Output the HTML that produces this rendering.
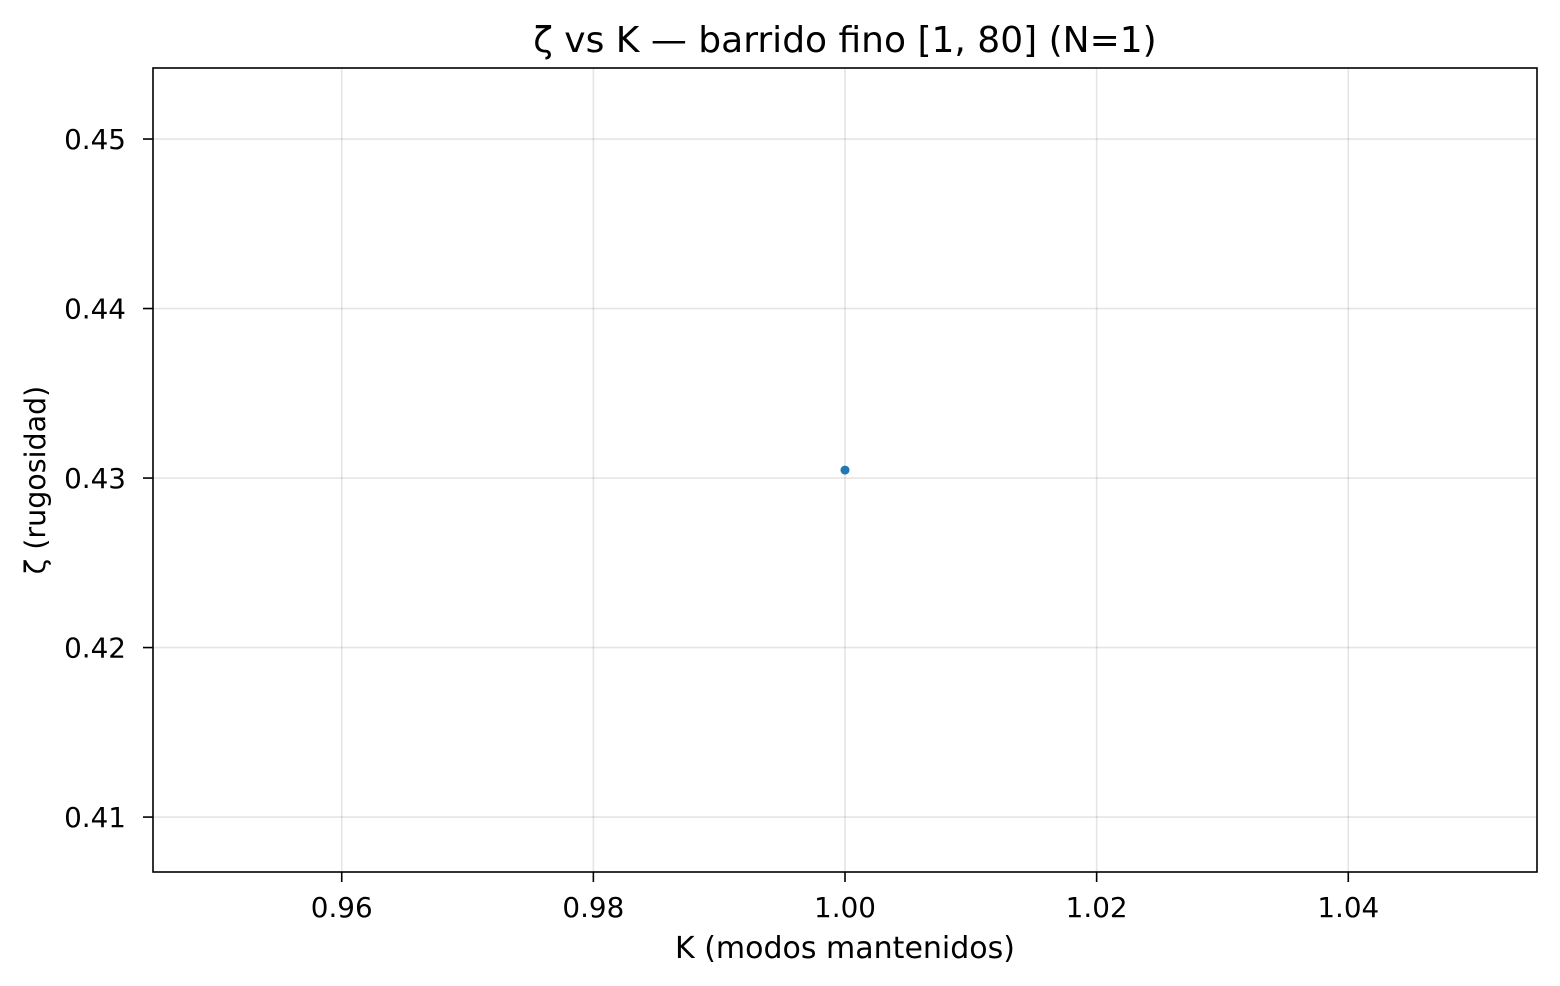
<!DOCTYPE html>
<html><head><meta charset="utf-8"><style>
html,body{margin:0;padding:0;background:#fff;}
svg{display:block;font-family:"DejaVu Sans","Liberation Sans",sans-serif;}
</style></head><body>
<svg id="chart" width="1560" height="986">
<g id="grid"></g>
<g id="ticks"></g>
<g id="points"></g>
<rect x="153" y="68" width="1384" height="804" fill="none" stroke="#000" stroke-width="1.6"/>
<text x="845" y="52" text-anchor="middle" font-size="36">ζ vs K — barrido fino [1, 80] (N=1)</text>
<text x="845" y="958" text-anchor="middle" font-size="30">K (modos mantenidos)</text>
<text transform="translate(45,480) rotate(-90)" text-anchor="middle" font-size="28.5">ζ (rugosidad)</text>
</svg>
<script>
const xTicks=[0.96,0.98,1.00,1.02,1.04];
const xTickLabels=["0.96","0.98","1.00","1.02","1.04"];
const yTicks=[0.41,0.42,0.43,0.44,0.45];
const yTickLabels=["0.41","0.42","0.43","0.44","0.45"];
const kValues=[1.0];
const zetaValues=[0.43047];
const L=153,R=1537,T=68,B=872;
const xMin=0.945,xMax=1.055,yMin=0.40676,yMax=0.45419;
const xs=v=>L+(v-xMin)/(xMax-xMin)*(R-L);
const ys=v=>B-(v-yMin)/(yMax-yMin)*(B-T);
const NS="http://www.w3.org/2000/svg";
const grid=document.getElementById('grid'),ticks=document.getElementById('ticks'),pts=document.getElementById('points');
function mk(tag,attrs,parent){const e=document.createElementNS(NS,tag);for(const k in attrs)e.setAttribute(k,attrs[k]);parent.appendChild(e);return e;}
xTicks.forEach((v,i)=>{const x=xs(v);
 let g=mk('line',{x1:x,x2:x,y1:T,y2:B,stroke:'#000','stroke-opacity':0.1,'stroke-width':1.6},grid);
 
 
 let t=mk('line',{x1:x,x2:x,y1:B,y2:B+10,stroke:'#000','stroke-width':1.6},ticks);
 
 
 let l=mk('text',{x:x,y:B+45,'text-anchor':'middle','font-size':27.8},ticks);l.textContent=xTickLabels[i];
 
 
});
yTicks.forEach((v,i)=>{const y=ys(v);
 let g=mk('line',{x1:L,x2:R,y1:y,y2:y,stroke:'#000','stroke-opacity':0.1,'stroke-width':1.6},grid);
 
 
 let t=mk('line',{x1:L-10,x2:L,y1:y,y2:y,stroke:'#000','stroke-width':1.6},ticks);
 
 
 let l=mk('text',{x:L-27,y:y+10,'text-anchor':'end','font-size':27.8},ticks);l.textContent=yTickLabels[i];
 
 
});
kValues.forEach((k,i)=>{
 let c=mk('circle',{cx:xs(k),cy:ys(zetaValues[i]),r:4.5,fill:'#1f77b4'},pts);
 
 
});
</script>
</body></html>
